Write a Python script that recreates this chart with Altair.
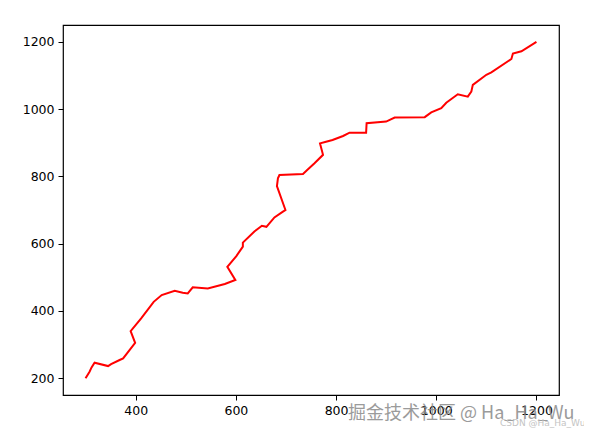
import altair as alt
import pandas as pd

xs = [300, 308, 312, 318, 345, 351, 368, 375, 399, 390, 411, 436, 452, 478, 494, 504,
      514, 544, 578, 599, 583, 601, 614, 614, 637, 652, 661, 677, 694, 699, 682, 684,
      687, 734, 744, 757, 774, 768, 780, 793, 814, 827, 860, 861, 900, 917, 977, 990,
      1010, 1020, 1043, 1063, 1070, 1073, 1100, 1110, 1150, 1153, 1170, 1200]
ys = [200, 219, 232, 246, 236, 242, 254, 259, 305, 340, 378, 427, 447, 460, 454, 452,
      470, 467, 480, 492, 531, 563, 591, 603, 636, 653, 650, 678, 695, 700, 771, 794,
      804, 807, 821, 839, 864, 898, 903, 908, 920, 930, 930, 958, 963, 975, 976, 990,
      1003, 1019, 1044, 1037, 1052, 1072, 1102, 1109, 1149, 1165, 1172, 1200]
x_ticks = [400, 600, 800, 1000, 1200]
y_ticks = [200, 400, 600, 800, 1000, 1200]
watermark = "掘金技术社区 @ Ha_Ha_Wu"
watermark2 = "CSDN @Ha_Ha_Wu"

df = pd.DataFrame({"x": xs, "y": ys, "i": list(range(len(xs)))})

axis_common = dict(
    grid=False, domain=False, tickColor="black", tickSize=5, tickWidth=1,
    labelColor="black", labelFont="DejaVu Sans", labelFontSize=12.5, labelPadding=4,
    title=None, format="d",
)

line = alt.Chart(df).mark_line(color="#ff0000", strokeWidth=2).encode(
    x=alt.X("x:Q", scale=alt.Scale(domain=[255, 1245], nice=False, zero=False),
            axis=alt.Axis(values=x_ticks, **axis_common)),
    y=alt.Y("y:Q", scale=alt.Scale(domain=[150, 1250], nice=False, zero=False),
            axis=alt.Axis(values=y_ticks, **axis_common)),
    order="i:Q",
)

wm = alt.Chart(pd.DataFrame({"t": [watermark]})).mark_text(
    font="Noto Sans CJK SC", fontSize=18, color="#8a8a8a", opacity=0.85,
    align="left", baseline="middle", clip=False,
).encode(text="t:N", x=alt.value(285), y=alt.value(389))

wm2 = alt.Chart(pd.DataFrame({"t": [watermark2]})).mark_text(
    font="DejaVu Sans", fontSize=9, color="#c4c4c4",
    align="left", baseline="middle", clip=False,
).encode(text="t:N", x=alt.value(437), y=alt.value(398))

chart = alt.layer(line, wm, wm2).properties(
    width=496, height=370,
    autosize=alt.AutoSizeParams(type="none"),
    padding={"left": 55, "top": 17, "right": 25, "bottom": 35},
    background="white",
).configure_view(stroke="black", strokeWidth=1.2)

chart.save("out.html", embed_options={"renderer": "svg", "actions": False})
